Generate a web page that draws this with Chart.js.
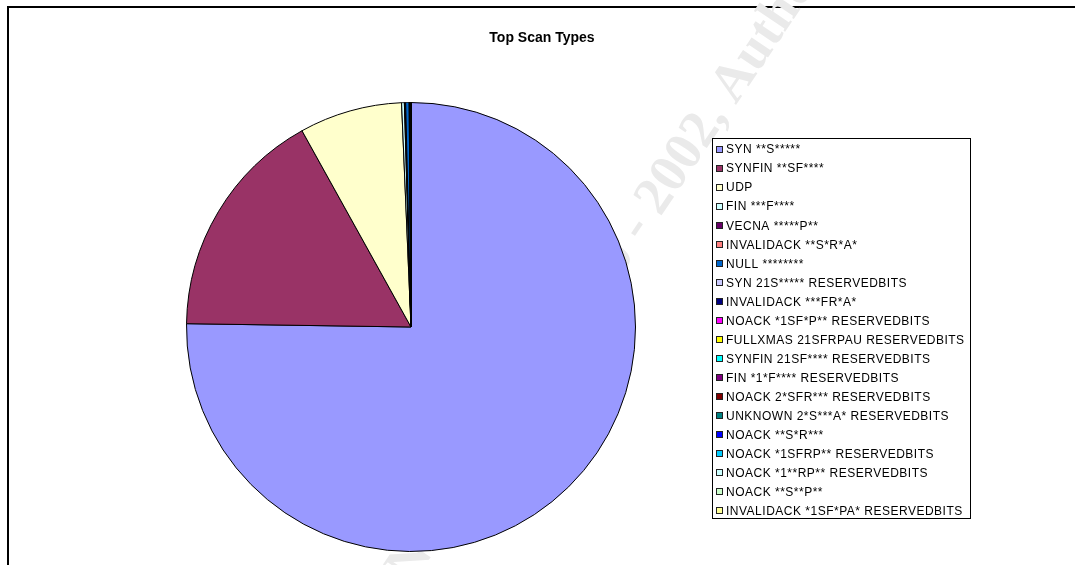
<!DOCTYPE html>
<html lang="en">
<head>
<meta charset="UTF-8">
<title>Top Scan Types</title>
<script src="https://cdn.jsdelivr.net/npm/chart.js"></script>
<style>
    body { margin: 0; background: #fff; }
    .chartBox { width: 1075px; height: 565px; }
</style>
</head>
<body>
<div class="chartBox">
    <canvas id="scans" width="1075" height="565"></canvas>
</div>
<script>
// scan counts per signature
const scanTypes = [
    "SYN **S*****",
    "SYNFIN **SF****",
    "UDP",
    "FIN ***F****",
    "VECNA *****P**",
    "INVALIDACK **S*R*A*",
    "NULL ********",
    "SYN 21S***** RESERVEDBITS",
    "INVALIDACK ***FR*A*",
    "NOACK *1SF*P** RESERVEDBITS",
    "FULLXMAS 21SFRPAU RESERVEDBITS",
    "SYNFIN 21SF**** RESERVEDBITS",
    "FIN *1*F**** RESERVEDBITS",
    "NOACK 2*SFR*** RESERVEDBITS",
    "UNKNOWN 2*S***A* RESERVEDBITS",
    "NOACK **S*R***",
    "NOACK *1SFRP** RESERVEDBITS",
    "NOACK *1**RP** RESERVEDBITS",
    "NOACK **S**P**",
    "INVALIDACK *1SF*PA* RESERVEDBITS"
];
const scanCounts = [15050, 3340, 1480, 40, 10, 8, 50, 6, 4, 3, 2, 2, 2, 1, 1, 1, 1, 1, 1, 1];
const sliceColors = [
    "#9999FF", "#993366", "#FFFFCC", "#CCFFFF", "#660066",
    "#FF8080", "#0066CC", "#CCCCFF", "#000080", "#FF00FF",
    "#FFFF00", "#00FFFF", "#800080", "#800000", "#008080",
    "#0000FF", "#00CCFF", "#CCFFFF", "#CCFFCC", "#FFFF99"
];

const chartTitle = "Top Scan Types";
const stamp = "\u00A9 SANS Institute 2000 - 2002, Author retains full rights.";

// frame, stamp, title and the boxed legend
const decor = {
    id: "decor",
    beforeDraw(chart) {
        const ctx = chart.ctx;
        ctx.save();
        ctx.fillStyle = "#fff";
        ctx.fillRect(0, 0, chart.width, chart.height);
        ctx.fillStyle = "#000";
        ctx.fillRect(7, 6, 2, chart.height - 6);
        ctx.fillRect(7, 6, chart.width - 7, 2);
        ctx.restore();
    },
    beforeDatasetsDraw(chart) {
        const ctx = chart.ctx;
        ctx.save();
        ctx.font = "bold 54px 'Liberation Serif', 'Times New Roman', serif";
        ctx.fillStyle = "#eaeaea";
        ctx.textBaseline = "middle";
        const pre = ctx.measureText("\u00A9 SANS Institute 2000 ").width;
        const dash = ctx.measureText("-").width;
        ctx.translate(636, 228);
        ctx.rotate(-56 * Math.PI / 180);
        ctx.fillText(stamp, -(pre + dash / 2), 0);
        ctx.restore();
    },
    afterDraw(chart) {
        const ctx = chart.ctx;
        ctx.save();
        // title
        ctx.fillStyle = "#000";
        ctx.font = "bold 14px Arial, 'Liberation Sans', sans-serif";
        ctx.textAlign = "center";
        ctx.textBaseline = "alphabetic";
        ctx.fillText(chartTitle, 542, 42);

        // legend
        const labels = chart.data.labels;
        const colors = chart.data.datasets[0].backgroundColor;
        const box = { x: 712.5, y: 138.5, w: 258, h: 380 };
        ctx.fillStyle = "#fff";
        ctx.fillRect(box.x, box.y, box.w, box.h);
        ctx.strokeStyle = "#000";
        ctx.lineWidth = 1;
        ctx.strokeRect(box.x, box.y, box.w, box.h);

        ctx.font = "12px Arial, 'Liberation Sans', sans-serif";
        ctx.textAlign = "left";
        ctx.textBaseline = "middle";
        if ("letterSpacing" in ctx) ctx.letterSpacing = "0.5px";
        const rowH = 19.05;
        labels.forEach((lab, i) => {
            const cy = 149.5 + i * rowH;
            ctx.fillStyle = colors[i];
            ctx.fillRect(716, Math.round(cy - 4), 7, 7);
            ctx.strokeStyle = "#222";
            ctx.strokeRect(716.5, Math.round(cy - 4) + 0.5, 6, 6);
            ctx.fillStyle = "#000";
            ctx.fillText(lab, 726, cy + 0.5);
        });
        ctx.restore();
    }
};

new Chart(document.getElementById("scans"), {
    type: "pie",
    data: {
        labels: scanTypes,
        datasets: [{
            data: scanCounts,
            backgroundColor: sliceColors,
            borderColor: "#000",
            borderWidth: 1,
            hoverOffset: 0
        }]
    },
    options: {
        responsive: false,
        animation: false,
        layout: { padding: { top: 102, bottom: 13, left: 186, right: 439 } },
        plugins: {
            legend: { display: false },
            title: { display: false }
        }
    },
    plugins: [decor]
});
</script>
</body>
</html>
